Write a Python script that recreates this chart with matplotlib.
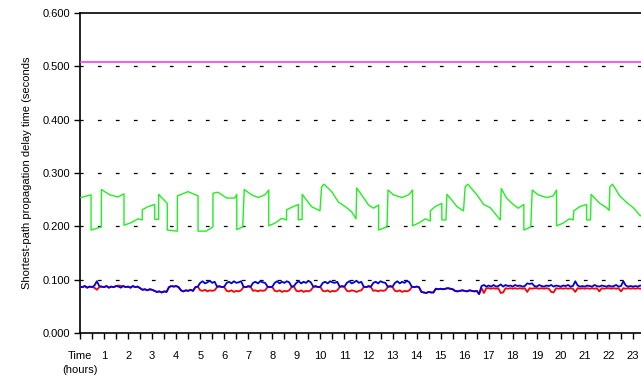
import numpy as np
import matplotlib
matplotlib.use("Agg")
import matplotlib.pyplot as plt

plt.rcParams['font.family'] = ['Liberation Sans', 'DejaVu Sans']

# -------------------------
# DATOS
# -------------------------
# upper bound (constant)
limit_t = [0.0, 24.0]
limit_v = [0.508, 0.508]

# green series (hours, seconds)
green_t = [0.03, 0.46, 0.46, 0.89, 0.89, 1.24, 1.58, 1.83, 1.83, 2.13, 2.41, 2.59, 2.59, 2.83,
           3.11, 3.11, 3.27, 3.27, 3.63, 3.63, 4.05, 4.05, 4.49, 4.91, 4.91, 5.25, 5.53, 5.53,
           5.74, 6.10, 6.44, 6.52, 6.52, 6.77, 6.83, 7.14, 7.41, 7.69, 7.85, 7.85, 8.11, 8.39,
           8.59, 8.59, 8.87, 9.08, 9.08, 9.24, 9.24, 9.63, 9.98, 10.05, 10.15, 10.47, 10.74,
           11.09, 11.30, 11.48, 11.51, 11.85, 12.00, 12.21, 12.42, 12.42, 12.77, 12.81, 13.04,
           13.39, 13.67, 13.83, 13.83, 14.08, 14.36, 14.57, 14.57, 14.77, 15.05, 15.05, 15.22,
           15.26, 15.47, 15.68, 15.95, 16.02, 16.13, 16.51, 16.79, 17.06, 17.48, 17.52, 17.74,
           18.02, 18.23, 18.46, 18.46, 18.75, 18.81, 19.06, 19.41, 19.68, 19.82, 19.82, 20.10,
           20.35, 20.51, 20.54, 20.79, 21.07, 21.07, 21.23, 21.26, 21.62, 21.90, 22.01, 22.04,
           22.15, 22.45, 22.73, 23.01, 23.28, 23.60]
green_v = [0.254, 0.259, 0.193, 0.199, 0.269, 0.259, 0.255, 0.261, 0.202, 0.207, 0.214, 0.212,
           0.231, 0.237, 0.241, 0.213, 0.213, 0.260, 0.243, 0.193, 0.191, 0.257, 0.265, 0.257,
           0.191, 0.191, 0.199, 0.262, 0.264, 0.253, 0.253, 0.260, 0.194, 0.199, 0.269, 0.259,
           0.254, 0.259, 0.268, 0.201, 0.206, 0.215, 0.212, 0.231, 0.237, 0.241, 0.212, 0.213,
           0.260, 0.237, 0.229, 0.274, 0.279, 0.265, 0.246, 0.235, 0.227, 0.214, 0.272, 0.250,
           0.240, 0.234, 0.240, 0.193, 0.199, 0.268, 0.259, 0.254, 0.259, 0.268, 0.201, 0.206,
           0.214, 0.210, 0.229, 0.237, 0.243, 0.212, 0.212, 0.260, 0.249, 0.237, 0.229, 0.274,
           0.279, 0.259, 0.241, 0.235, 0.212, 0.271, 0.253, 0.241, 0.234, 0.241, 0.193, 0.199,
           0.268, 0.259, 0.254, 0.257, 0.268, 0.201, 0.206, 0.214, 0.212, 0.229, 0.237, 0.241,
           0.212, 0.212, 0.260, 0.243, 0.235, 0.230, 0.274, 0.279, 0.257, 0.245, 0.235, 0.221,
           0.212]

# red and blue series, one value every 6 minutes (10 per hour)
blue_v = [
    .087, .086, .088, .085, .087, .086, .089, .097, .088, .087,  # 0
    .086, .088, .085, .087, .086, .088, .087, .085, .088, .086,  # 1
    .087, .085, .088, .086, .087, .084, .081, .082, .080, .082,  # 2
    .081, .079, .077, .078, .076, .078, .077, .086, .088, .087,  # 3
    .088, .086, .080, .078, .080, .079, .081, .079, .086, .087,  # 4
    .094, .097, .093, .095, .098, .094, .096, .087, .088, .086,  # 5
    .087, .094, .096, .093, .097, .094, .095, .097, .087, .086,  # 6
    .088, .087, .094, .096, .093, .097, .095, .094, .087, .086,  # 7
    .087, .094, .097, .093, .096, .094, .097, .095, .087, .088,  # 8
    .094, .097, .093, .096, .094, .098, .095, .087, .088, .086,  # 9
    .087, .094, .096, .093, .097, .095, .094, .096, .087, .088,  # 10
    .087, .094, .097, .093, .095, .098, .094, .096, .087, .086,  # 11
    .088, .087, .094, .096, .093, .097, .095, .094, .087, .088,  # 12
    .087, .094, .097, .093, .096, .094, .098, .095, .087, .086,  # 13
    .087, .086, .077, .076, .075, .077, .076, .076, .083, .082,  # 14
    .083, .082, .083, .084, .083, .082, .079, .078, .079, .080,  # 15
    .079, .078, .080, .079, .078, .079, .073, .088, .090, .087,  # 16
    .089, .087, .090, .087, .088, .091, .087, .090, .088, .089,  # 17
    .087, .090, .088, .089, .087, .088, .093, .092, .093, .088,  # 18
    .087, .090, .088, .087, .089, .088, .090, .087, .089, .088,  # 19
    .087, .089, .088, .090, .087, .088, .097, .089, .087, .088,  # 20
    .087, .089, .088, .087, .090, .088, .087, .089, .088, .087,  # 21
    .089, .087, .088, .090, .087, .088, .097, .089, .087, .088,  # 22
    .087, .088, .087, .089, .088, .087, .088, .087, .088, .087,  # 23
]
red_v = [
    .087, .086, .088, .085, .087, .086, .085, .081, .086, .087,  # 0
    .086, .088, .085, .087, .086, .088, .089, .088, .088, .086,  # 1
    .087, .085, .088, .086, .087, .084, .081, .082, .080, .082,  # 2
    .081, .079, .077, .078, .076, .078, .077, .086, .088, .087,  # 3
    .088, .086, .080, .078, .080, .079, .081, .079, .086, .087,  # 4
    .080, .079, .081, .078, .080, .079, .080, .086, .087, .086,  # 5
    .086, .079, .078, .080, .077, .079, .078, .080, .086, .086,  # 6
    .087, .086, .079, .080, .078, .080, .079, .080, .086, .086,  # 7
    .086, .079, .078, .080, .077, .079, .078, .080, .086, .087,  # 8
    .079, .078, .080, .077, .079, .078, .080, .086, .087, .086,  # 9
    .086, .079, .078, .080, .077, .079, .078, .080, .086, .087,  # 10
    .086, .079, .078, .080, .079, .077, .079, .080, .086, .086,  # 11
    .087, .086, .079, .080, .078, .080, .079, .080, .086, .087,  # 12
    .086, .079, .078, .080, .077, .079, .078, .080, .086, .086,  # 13
    .087, .086, .077, .076, .075, .077, .076, .076, .083, .082,  # 14
    .083, .082, .083, .084, .083, .082, .079, .078, .079, .080,  # 15
    .079, .078, .080, .079, .078, .079, .073, .084, .075, .084,  # 16
    .084, .083, .084, .083, .084, .075, .076, .084, .083, .084,  # 17
    .083, .084, .083, .084, .083, .084, .077, .084, .083, .084,  # 18
    .084, .083, .084, .083, .084, .083, .077, .076, .084, .083,  # 19
    .084, .083, .084, .083, .084, .083, .077, .084, .083, .084,  # 20
    .083, .084, .083, .084, .083, .084, .078, .084, .083, .084,  # 21
    .084, .083, .084, .083, .084, .078, .084, .083, .084, .083,  # 22
    .084, .083, .084, .083, .084, .083, .084, .083, .084, .083,  # 23
]
sample_t = np.arange(len(blue_v)) / 10.0

hour_labels = ["Time"] + [str(h) for h in range(1, 24)]
y_ticks = [0.0, 0.1, 0.2, 0.3, 0.4, 0.5, 0.6]

# -------------------------
# FIGURA
# -------------------------
fig = plt.figure(figsize=(6.41, 3.81), dpi=100)
# the plot area runs past the right edge of the picture, as in the original
ax = fig.add_axes([0.1248, 0.126, 0.9002, 0.8399])

for yv in y_ticks[1:-1]:
    ax.axhline(yv, color="black", lw=0.9, ls=(0.5, (3.0, 11.4)), zorder=1)

ax.plot(limit_t, limit_v, color="#f040f0", lw=1.2, zorder=3)
ax.plot(green_t, green_v, color="#22ee22", lw=1.0, zorder=3)
ax.plot(sample_t, red_v, color="#ff0000", lw=1.3, zorder=3)
ax.plot(sample_t, blue_v, color="#0000dd", lw=1.3, zorder=4)

ax.set_xlim(0, 24)
ax.set_ylim(0, 0.6)

ax.set_yticks(y_ticks)
ax.set_yticklabels([f"{v:.3f}" for v in y_ticks])
ax.set_xticks(range(24))
ax.set_xticklabels(hour_labels)
ax.set_xticks(np.arange(0.5, 24, 1.0), minor=True)

ax.tick_params(axis="both", which="both", direction="out", length=4, width=1, labelsize=8)
ax.tick_params(axis="x", which="both", pad=9)
ax.tick_params(axis="y", pad=3)

for side in ["left", "bottom", "top", "right"]:
    ax.spines[side].set_linewidth(1.2)

ax.text(0, -0.115, "(hours)", transform=ax.get_xaxis_transform(),
        ha="center", va="center", fontsize=8)

ax.set_ylabel("Shortest-path propagation delay time (seconds", fontsize=8, labelpad=8)

fig.savefig("out.png", dpi=100)
